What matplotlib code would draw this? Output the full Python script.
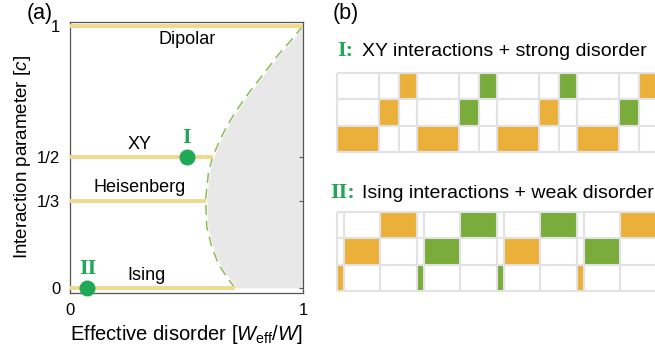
import numpy as np
import matplotlib.pyplot as plt
from matplotlib.patches import Rectangle

plt.rcParams['font.family'] = ['Liberation Sans', 'DejaVu Sans']
plt.rcParams['mathtext.fontset'] = 'custom'
plt.rcParams['mathtext.rm'] = 'Liberation Sans'
plt.rcParams['mathtext.it'] = 'Liberation Sans:italic'

# phase diagram: interaction parameter c vs effective disorder
models = ['Ising', 'Heisenberg', 'XY', 'Dipolar']
c_vals = [0.0, 1 / 3, 1 / 2, 1.0]
line_end = [0.708, 0.582, 0.612, 1.0]

# boundary of the shaded (localized) region
bound_c = [0.0, 0.043, 0.094, 0.158, 0.234, 0.336, 0.438, 0.501, 0.565,
           0.616, 0.668, 0.725, 0.775, 0.832, 0.889, 0.940, 1.0]
bound_x = [0.708, 0.672, 0.636, 0.608, 0.587, 0.582, 0.594, 0.612, 0.644,
           0.672, 0.708, 0.751, 0.794, 0.844, 0.893, 0.944, 1.0]

# marked points I and II
point_names = ['I', 'II']
point_x = [0.5, 0.075]
point_c = [0.5, 0.0]

# pulse sequences: colour of the filled cell in each period (top, middle, bottom row)
xy_top = ['O', 'G', 'G', 'O']
xy_mid = ['O', 'G', 'O', 'G']
xy_bot = ['O', 'O', 'O', 'O']
ising_top = ['O', 'G', 'G', 'O']
ising_mid = ['O', 'G', 'O', 'G']
ising_bot = ['O', 'G', 'G', 'O']

YELLOW = '#f0d98a'
GREEN = '#1fa856'
CELL = {'O': '#ebb03a', 'G': '#7aac3c'}
GRID = '#e2e2e2'

fig = plt.figure(figsize=(6.55, 3.6), dpi=100)

ax = fig.add_axes([70 / 655, 1 - 293 / 360, 233 / 655, 271 / 360])
ax.set_xlim(0, 1)
ax.set_ylim(-0.019, 1.015)

ax.fill_betweenx(bound_c, bound_x, 1, color='#e8e8e8', lw=0, zorder=1)
ax.plot(bound_x, bound_c, color='white', lw=2.2, zorder=2)
ax.plot(bound_x, bound_c, color='#8cbd4f', lw=1.1, dashes=(6.5, 4), zorder=3)

for c, xe in zip(c_vals, line_end):
    ax.plot([0, xe], [c, c], color=YELLOW, lw=2.8, solid_capstyle='butt', zorder=4)

label_pos = {'Dipolar': (0.502, 0.947), 'XY': (0.30, 0.548),
             'Heisenberg': (0.30, 0.384), 'Ising': (0.33, 0.046)}
for name in models:
    x, y = label_pos[name]
    ax.text(x, y, name, ha='center', va='center', fontsize=13)

ax.plot(point_x, point_c, 'o', color=GREEN, ms=10.5, zorder=6, clip_on=False)
for name, x, c in zip(point_names, point_x, point_c):
    ax.text(x, c + 0.073, name, ha='center', va='center', color=GREEN,
            fontsize=16, fontweight='bold', family='Liberation Serif')

ax.set_xticks([0, 1])
ax.set_xticklabels(['0', '1'])
ax.set_yticks(c_vals)
ax.set_yticklabels(['0', '1/3', '1/2', '1'])
ax.tick_params(direction='in', length=3, labelsize=12, right=True, top=False,
               color='#555555', pad=7)
for s in ax.spines.values():
    s.set_color('#555555')
    s.set_linewidth(0.9)
ax.set_xlabel(r'Effective disorder [$W_{\mathrm{eff}}/W$]', fontsize=14.5, labelpad=4)
ax.set_ylabel(r'Interaction parameter [$c$]', fontsize=13.5, labelpad=3)

fig.text(27 / 655, 1 - 14 / 360, '(a)', fontsize=15.5, va='center')
fig.text(333 / 655, 1 - 14 / 360, '(b)', fontsize=15.5, va='center')


def draw_sequence(axb, bounds, rows):
    # one period = 1 unit in x, three cells per period
    axb.set_xlim(0, 4)
    axb.set_ylim(0, 3)
    axb.axis('off')
    for r, row in enumerate(rows):
        y0 = 2 - r
        col = 2 - r
        for p, key in enumerate(row):
            x0 = p + bounds[col]
            w = bounds[col + 1] - bounds[col]
            axb.add_patch(Rectangle((x0, y0), w, 1, color=CELL[key], lw=0, zorder=1))
    xs = [p + b for p in range(4) for b in bounds[:-1]] + [4]
    axb.vlines(xs, 0, 3, color=GRID, lw=1.5, zorder=2, clip_on=False)
    axb.hlines([0, 1, 2, 3], 0, 4, color=GRID, lw=1.5, zorder=2, clip_on=False)


ax1 = fig.add_axes([337 / 655, 1 - 152 / 360, 320 / 655, 79 / 360])
draw_sequence(ax1, [0, 0.52, 0.77, 1], [xy_top, xy_mid, xy_bot])
ax2 = fig.add_axes([337 / 655, 1 - 291 / 360, 320 / 655, 79 / 360])
draw_sequence(ax2, [0, 0.083, 0.54, 1], [ising_top, ising_mid, ising_bot])

fig.text(337 / 655, 1 - 51 / 360, 'I:', color=GREEN, fontsize=16, fontweight='bold',
         family='Liberation Serif', va='center')
fig.text(362 / 655, 1 - 51 / 360, 'XY interactions + strong disorder', fontsize=14, va='center')
fig.text(330 / 655, 1 - 193 / 360, 'II:', color=GREEN, fontsize=16, fontweight='bold',
         family='Liberation Serif', va='center')
fig.text(362 / 655, 1 - 193 / 360, 'Ising interactions + weak disorder', fontsize=14, va='center')

fig.savefig('out.png', dpi=100)
